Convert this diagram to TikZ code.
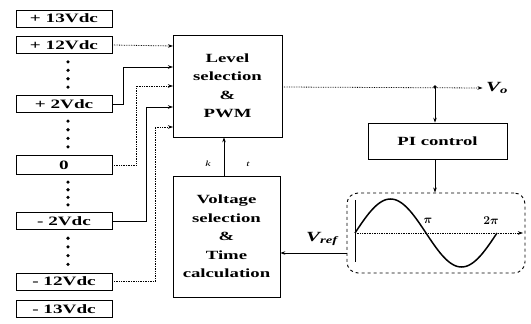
\documentclass[tikz,border=0pt]{standalone}
\usepackage{amsmath}
\usepackage{fontspec}
\setmainfont[FakeStretch=1.5]{Liberation Serif}
\usepackage{tikz}
\usetikzlibrary{arrows.meta, positioning, calc}
\tikzset{
  lvlbox/.style={rectangle, draw, line width=0.7pt, minimum width=96pt,
    minimum height=17pt, inner sep=0pt, font=\bfseries\fontsize{12.8}{14}\selectfont},
  block/.style={rectangle, draw, line width=0.7pt, align=center, inner sep=0pt,
    font=\bfseries\fontsize{12.5}{18.5}\selectfont},
  arrow/.style={-{Stealth[length=5pt,width=3.5pt]}, line width=0.7pt},
  dotline/.style={arrow, densely dotted, line width=0.8pt},
  vdots/.style={circle, fill, inner sep=0pt, minimum size=3.6pt}
}
\begin{document}
\begin{tikzpicture}[x=1pt, y=-1pt]
  \useasboundingbox (0,0) rectangle (531,324);
  % voltage levels
  \node[lvlbox] (p13) at (64,18.5) {+ 13Vdc};
  \node[lvlbox] (p12) at (64,45) {+ 12Vdc};
  \node[lvlbox] (p2) at (64,104) {+ 2Vdc};
  \node[lvlbox, minimum height=19pt] (zero) at (64,165) {0};
  \node[lvlbox] (m2) at (64,221) {- 2Vdc};
  \node[lvlbox] (m12) at (64,281.5) {- 12Vdc};
  \node[lvlbox] (m13) at (64,309) {- 13Vdc};
  \foreach \ya/\yb [count=\g] in {53.5/95.5, 112.5/155.5, 174.5/212.5, 229.5/273}
    \foreach \k in {1,2,3,4}
      \node[vdots] (dot-\g-\k) at (68,{\ya+(\yb-\ya)*\k/5}) {};
  % blocks
  \node[block, minimum width=109pt, minimum height=102pt] (pwm) at (227.5,86)
    {Level\\selection\\\&\\PWM};
  \node[block, minimum width=107pt, minimum height=121pt] (volt) at (226.5,236.5)
    {Voltage\\selection\\\&\\Time\\calculation};
  \node[block, minimum width=139pt, minimum height=36pt] (pi) at (437.5,141) {PI control};
  \node[draw, dashed, line width=0.9pt, rounded corners=11pt, minimum width=178pt,
    minimum height=80pt] (ref) at (436,233) {};
  % inputs of the PWM block
  \coordinate (in1) at (173,46);
  \coordinate (in2) at (173,67);
  \coordinate (in3) at (173,86);
  \coordinate (in4) at (173,107);
  \coordinate (in5) at (173,127);
  \draw[dotline] (p12.east) -- (in1);
  \draw[arrow] (p2.east) -- ++(11,0) |- (in2);
  \draw[dotline] (zero.east) -- ++(24,0) |- (in3);
  \draw[arrow] (m2.east) -- ++(34,0) |- (in4);
  \draw[dotline] (m12.east) -- ++(43,0) |- (in5);
  % output and feedback
  \coordinate (junc) at (435,87);
  \node[font=\bfseries\itshape\fontsize{14}{14}\selectfont] (vo) at (497,88)
    {V\textsubscript{\itshape o}};
  \draw[dotline] (pwm.east |- junc) -- (vo.west);
  \fill (junc) circle (1.8pt);
  \draw[arrow] (junc) -- (junc |- pi.north);
  \draw[arrow] (pi.south -| junc) -- (ref.north -| junc);
  \draw[arrow] (volt.north -| 224,0) -- (pwm.south -| 224,0);
  \node[font=\itshape\fontsize{8}{8}\selectfont] (lk) at (208,164) {k};
  \node[font=\itshape\fontsize{8}{8}\selectfont] (lt) at (248,164) {t};
  \coordinate (vrout) at (347,253);
  \draw[arrow] (vrout) -- (vrout -| volt.east);
  \node[font=\bfseries\itshape\fontsize{14}{14}\selectfont] (vref) at (322,239)
    {V\textsubscript{\itshape ref}};
  % reference sine wave
  \draw[line width=0.8pt] (355,200) -- (355,262);
  \draw[arrow, densely dotted] (355,233) -- (523,233);
  \draw[line width=1.5pt] plot[domain=0:360, samples=73, smooth]
    ({355+\x/360*142},{233-34*sin(\x)});
  \node[font=\fontsize{13}{13}\selectfont] (pilab) at (428,221) {$\boldsymbol{\pi}$};
  \node[font=\fontsize{13}{13}\selectfont] (tpilab) at (491,221) {$\boldsymbol{2\pi}$};
\end{tikzpicture}
\end{document}
